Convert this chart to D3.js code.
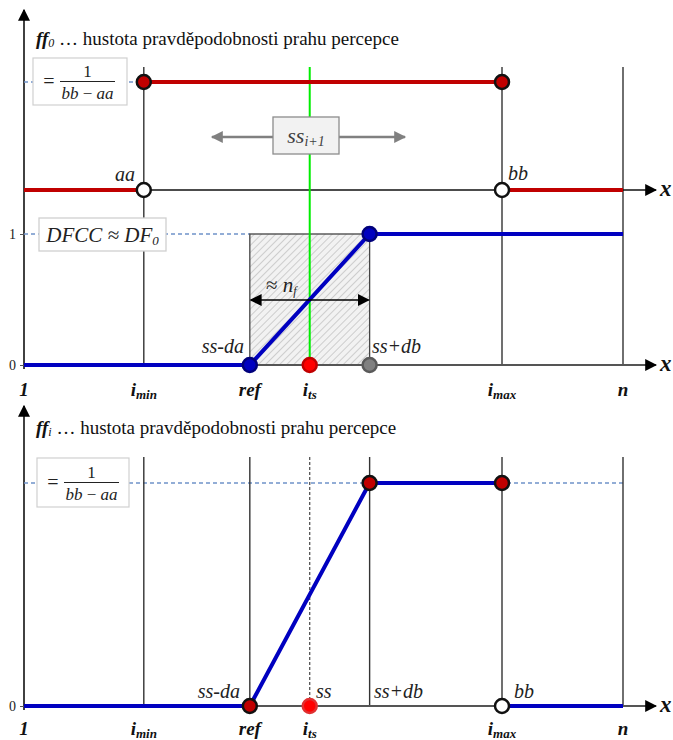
<!DOCTYPE html>
<html><head><meta charset="utf-8">
<script src="https://cdn.jsdelivr.net/npm/d3@7"></script>
</head><body>
<svg id="c" width="673" height="740"></svg>
<script>
// Positions along the index axis (abstract units, 1 → 0, n → 100)
const tickPos  = [0, 20, 37.7, 47.7, 79.8, 100];
const tickMain = ["1", "i", "ref", "i", "i", "n"];
const tickSub  = ["", "min", "", "ts", "max", ""];
const aa = 20, bb = 79.8, ref = 37.7, its = 47.7, ssdb = 57.7, nEnd = 100;

// ff0: uniform density on <aa, bb>, height normalised to 1/(bb-aa) = 1
const ff0Outer = [[[0, 0], [aa, 0]], [[bb, 0], [nEnd, 0]]];
const ff0Inner = [[aa, 1], [bb, 1]];
// DFCC ≈ DF0: distribution function
const dfcc = [[0, 0], [ref, 0], [ssdb, 1], [nEnd, 1]];
// ffi: density after the step
const ffiMain = [[0, 0], [ref, 0], [ssdb, 1], [bb, 1]];
const ffiTail = [[bb, 0], [nEnd, 0]];

d3.select("body").style("margin", "0").style("background", "#fff");
const FONT = '"Liberation Serif"';
const svg = d3.select("#c").style("display", "block");
const x = d3.scaleLinear().domain([0, 100]).range([24, 623]);
const yDen0 = d3.scaleLinear().domain([0, 1]).range([190, 82]);
const yCdf  = d3.scaleLinear().domain([0, 1]).range([365, 234]);
const yDenI = d3.scaleLinear().domain([0, 1]).range([706, 483]);

const RED = "#c00000", BLUE = "#0000c0", GRID = "#333";

const defs = svg.append("defs");
defs.append("marker").attr("id", "arrAx").attr("viewBox", "0 0 10 10")
  .attr("refX", 9).attr("refY", 5).attr("markerWidth", 12).attr("markerHeight", 12)
  .attr("markerUnits", "userSpaceOnUse").attr("orient", "auto")
  .append("path").attr("d", "M0,0L10,5L0,10Z").attr("fill", "#000");
defs.append("marker").attr("id", "arrS").attr("viewBox", "0 0 10 10")
  .attr("refX", 9).attr("refY", 5).attr("markerWidth", 12).attr("markerHeight", 12)
  .attr("markerUnits", "userSpaceOnUse").attr("orient", "auto-start-reverse")
  .append("path").attr("d", "M0,0L10,5L0,10Z").attr("fill", "#000");
defs.append("marker").attr("id", "arrG").attr("viewBox", "0 0 10 10")
  .attr("refX", 9).attr("refY", 5).attr("markerWidth", 14).attr("markerHeight", 12)
  .attr("markerUnits", "userSpaceOnUse").attr("orient", "auto")
  .append("path").attr("d", "M0,0L10,5L0,10Z").attr("fill", "#808080");
const pat = defs.append("pattern").attr("id", "hatch").attr("patternUnits", "userSpaceOnUse")
  .attr("width", 5).attr("height", 5).attr("patternTransform", "rotate(45)");
pat.append("rect").attr("width", 5).attr("height", 5).attr("fill", "#f2f2f2");
pat.append("line").attr("x1", 0).attr("y1", 0).attr("x2", 0).attr("y2", 5)
  .attr("stroke", "#b4b4b4").attr("stroke-width", 1.2);

const line = (ys) => d3.line().x(d => x(d[0])).y(d => ys(d[1]));

function txt(g) {
  return g.append("text").style("font-family", FONT);
}
function vline(g, xv, y1, y2, opts = {}) {
  g.append("line").attr("x1", x(xv)).attr("x2", x(xv)).attr("y1", y1).attr("y2", y2)
    .attr("stroke", opts.stroke || GRID).attr("stroke-width", opts.w || 1.4)
    .attr("stroke-dasharray", opts.dash || null);
}
function dot(g, cx, cy, fill, stroke, r = 7) {
  g.append("circle").attr("cx", cx).attr("cy", cy).attr("r", r)
    .attr("fill", fill).attr("stroke", stroke).attr("stroke-width", 2.5);
}
function label(g, tx, ty, parts, opts = {}) {
  const t = txt(g).attr("x", tx).attr("y", ty)
    .attr("text-anchor", opts.anchor || "start")
    .attr("font-size", opts.size || 19).attr("fill", opts.fill || "#222");
  parts.forEach(p => {
    const s = t.append("tspan").text(p.t);
    if (p.it) s.attr("font-style", "italic");
    if (p.b) s.attr("font-weight", "bold");
    if (p.sz) s.attr("font-size", p.sz);
    if (p.dy) s.attr("dy", p.dy);
  });
  return t;
}
function fracBox(g, bx, by, bw, bh) {
  g.append("rect").attr("x", bx).attr("y", by).attr("width", bw).attr("height", bh)
    .attr("fill", "#fff").attr("stroke", "#d0d0d0").attr("stroke-width", 1.2);
  const cy = by + bh / 2;
  txt(g).attr("x", bx + 16).attr("y", cy + 6).attr("text-anchor", "middle")
    .attr("font-size", 20).attr("fill", "#222").text("=");
  g.append("line").attr("x1", bx + 27).attr("x2", bx + 82).attr("y1", cy).attr("y2", cy)
    .attr("stroke", "#222").attr("stroke-width", 1.1);
  txt(g).attr("x", bx + 54.5).attr("y", cy - 5).attr("text-anchor", "middle")
    .attr("font-size", 17).attr("fill", "#222").text("1");
  const t = txt(g).attr("x", bx + 54.5).attr("y", cy + 17).attr("text-anchor", "middle")
    .attr("font-size", 17).attr("fill", "#222");
  t.append("tspan").attr("font-style", "italic").text("bb");
  t.append("tspan").text(" − ");
  t.append("tspan").attr("font-style", "italic").text("aa");
}
function tickLabels(g, ty) {
  tickPos.forEach((p, i) => {
    const t = txt(g).attr("x", x(p)).attr("y", ty).attr("text-anchor", "middle")
      .attr("font-size", 19).attr("font-weight", "bold").attr("font-style", "italic").attr("fill", "#111");
    t.append("tspan").text(tickMain[i]);
    if (tickSub[i]) t.append("tspan").attr("font-size", 13).attr("dy", 3).text(tickSub[i]);
  });
}
function title(g, ty, sub) {
  const t = txt(g).attr("x", 36).attr("y", ty).attr("font-size", 19).attr("fill", "#111");
  t.append("tspan").attr("font-weight", "bold").attr("font-style", "italic").text("ff");
  t.append("tspan").attr("font-style", "italic").attr("font-size", 12).attr("dy", 2).text(sub);
  t.append("tspan").attr("dy", -2).text(" … hustota pravděpodobnosti prahu percepce");
}
function xAxisLine(g, yy, stroke, w) {
  g.append("line").attr("x1", 24).attr("x2", 656).attr("y1", yy).attr("y2", yy)
    .attr("stroke", stroke).attr("stroke-width", w).attr("marker-end", "url(#arrAx)");
  txt(g).attr("x", 660).attr("y", yy + 6).attr("font-size", 23)
    .attr("font-weight", "bold").attr("font-style", "italic").attr("fill", "#111").text("x");
}

/* ---------------- upper panel ---------------- */
const gTop = svg.append("g");
gTop.append("line").attr("x1", 24).attr("x2", 24).attr("y1", 369).attr("y2", 10)
  .attr("stroke", "#111").attr("stroke-width", 1.6).attr("marker-end", "url(#arrAx)");
title(gTop, 45, "0");

// reference dashed levels
gTop.append("line").attr("x1", 24).attr("x2", x(aa)).attr("y1", yDen0(1)).attr("y2", yDen0(1))
  .attr("stroke", "#6f93c9").attr("stroke-width", 1.3).attr("stroke-dasharray", "4,3");
gTop.append("line").attr("x1", 24).attr("x2", x(ref)).attr("y1", yCdf(1)).attr("y2", yCdf(1))
  .attr("stroke", "#6f93c9").attr("stroke-width", 1.3).attr("stroke-dasharray", "4,3");

// vertical guide lines
[aa, bb, nEnd].forEach(v => vline(gTop, v, 67, 365));

// hatched interval <ss-da, ss+db>
gTop.append("rect").attr("x", x(ref)).attr("y", yCdf(1))
  .attr("width", x(ssdb) - x(ref)).attr("height", yCdf(0) - yCdf(1))
  .attr("fill", "url(#hatch)").attr("stroke", "#444").attr("stroke-width", 1.3);

// axes
xAxisLine(gTop, yDen0(0), "#111", 1.5);
xAxisLine(gTop, yCdf(0), "#555", 1.8);
const yAx = d3.axisLeft(yCdf).tickValues([0, 1]).tickSize(4).tickPadding(4).tickFormat(d3.format("d"));
const yg = gTop.append("g").attr("transform", "translate(24,0)").call(yAx);
yg.attr("font-family", null);
yg.select(".domain").remove();
yg.selectAll("text").style("font-family", FONT).attr("font-size", 14).attr("fill", "#222");
yg.selectAll("line").attr("stroke", "#555");

// green line at i_ts
vline(gTop, its, 67, 365, { stroke: "#00ee00", w: 2 });

// ff0
ff0Outer.forEach(s => gTop.append("path").attr("d", line(yDen0)(s))
  .attr("fill", "none").attr("stroke", RED).attr("stroke-width", 4));
gTop.append("path").attr("d", line(yDen0)(ff0Inner))
  .attr("fill", "none").attr("stroke", RED).attr("stroke-width", 4);

// DFCC
gTop.append("path").attr("d", line(yCdf)(dfcc)).attr("fill", "none")
  .attr("stroke", BLUE).attr("stroke-width", 4).attr("stroke-linejoin", "round");

// width arrow ≈ n_f
gTop.append("line").attr("x1", x(ref) + 1).attr("x2", x(ssdb) - 1).attr("y1", 300).attr("y2", 300)
  .attr("stroke", "#000").attr("stroke-width", 1.5)
  .attr("marker-start", "url(#arrS)").attr("marker-end", "url(#arrS)");
label(gTop, 266, 292, [{ t: "≈ " }, { t: "n", it: 1 }, { t: "f", it: 1, sz: 12, dy: 3 }], { size: 21 });

// ss_{i+1} shift box with arrows
gTop.append("line").attr("x1", 273).attr("x2", 212).attr("y1", 137).attr("y2", 137)
  .attr("stroke", "#808080").attr("stroke-width", 2.5).attr("marker-end", "url(#arrG)");
gTop.append("line").attr("x1", 339).attr("x2", 405).attr("y1", 137).attr("y2", 137)
  .attr("stroke", "#808080").attr("stroke-width", 2.5).attr("marker-end", "url(#arrG)");
gTop.append("rect").attr("x", 273).attr("y", 117).attr("width", 66).attr("height", 37)
  .attr("fill", "#f2f2f2").attr("stroke", "#8c8c8c").attr("stroke-width", 1.3);
label(gTop, 306, 143, [{ t: "ss", it: 1 }, { t: "i+1", it: 1, sz: 14, dy: 3 }],
  { anchor: "middle", size: 22, fill: "#404040" });

// boxes
fracBox(gTop, 33, 58, 94, 47);
gTop.append("rect").attr("x", 39).attr("y", 218).attr("width", 127).attr("height", 33)
  .attr("fill", "#fff").attr("stroke", "#d0d0d0").attr("stroke-width", 1.3);
label(gTop, 102.5, 242, [{ t: "DFCC ≈ DF", it: 1 }, { t: "0", it: 1, sz: 13, dy: 3 }],
  { anchor: "middle", size: 21 });

// points
dot(gTop, x(aa), yDen0(1), RED, "#111");
dot(gTop, x(bb), yDen0(1), RED, "#111");
dot(gTop, x(aa), yDen0(0), "#fff", "#111");
dot(gTop, x(bb), yDen0(0), "#fff", "#111");
dot(gTop, x(ref), yCdf(0), BLUE, "#00007a");
dot(gTop, x(ssdb), yCdf(1), BLUE, "#00007a");
dot(gTop, x(its), yCdf(0), "#ff0000", "#c00000");
dot(gTop, x(ssdb), yCdf(0), "#808080", "#5a5a5a");

// point labels
label(gTop, 135, 181, [{ t: "aa", it: 1 }], { anchor: "end", size: 20 });
label(gTop, 508, 180, [{ t: "bb", it: 1 }], { size: 20 });
label(gTop, 244, 353, [{ t: "ss-da", it: 1 }], { anchor: "end", size: 20 });
label(gTop, 372, 353, [{ t: "ss+db", it: 1 }], { size: 20 });
tickLabels(gTop, 396);

/* ---------------- lower panel ---------------- */
const gBot = svg.append("g");
gBot.append("line").attr("x1", 24).attr("x2", 24).attr("y1", 710).attr("y2", 406)
  .attr("stroke", "#111").attr("stroke-width", 1.6).attr("marker-end", "url(#arrAx)");
title(gBot, 434, "i");

gBot.append("line").attr("x1", 24).attr("x2", x(nEnd)).attr("y1", yDenI(1)).attr("y2", yDenI(1))
  .attr("stroke", "#6f93c9").attr("stroke-width", 1.3).attr("stroke-dasharray", "4,3");
[aa, ref, ssdb, bb, nEnd].forEach(v => vline(gBot, v, 457, 706));
vline(gBot, its, 457, 706, { stroke: "#444", w: 1.2, dash: "3,2" });

xAxisLine(gBot, yDenI(0), "#555", 1.8);
const yAx2 = d3.axisLeft(yDenI).tickValues([0]).tickSize(4).tickPadding(4).tickFormat(d3.format("d"));
const yg2 = gBot.append("g").attr("transform", "translate(24,0)").call(yAx2);
yg2.attr("font-family", null);
yg2.select(".domain").remove();
yg2.selectAll("text").style("font-family", FONT).attr("font-size", 14).attr("fill", "#222");
yg2.selectAll("line").attr("stroke", "#555");

gBot.append("path").attr("d", line(yDenI)(ffiMain)).attr("fill", "none")
  .attr("stroke", BLUE).attr("stroke-width", 4).attr("stroke-linejoin", "round");
gBot.append("path").attr("d", line(yDenI)(ffiTail)).attr("fill", "none")
  .attr("stroke", BLUE).attr("stroke-width", 4);

fracBox(gBot, 37, 458, 92, 49);

dot(gBot, x(ref), yDenI(0), RED, "#111");
dot(gBot, x(its), yDenI(0), "#ff0000", "#e03030");
dot(gBot, x(ssdb), yDenI(1), RED, "#111");
dot(gBot, x(bb), yDenI(1), RED, "#111");
dot(gBot, x(bb), yDenI(0), "#fff", "#111");

label(gBot, 240, 698, [{ t: "ss-da", it: 1 }], { anchor: "end", size: 20 });
label(gBot, 316, 698, [{ t: "ss", it: 1 }], { size: 20 });
label(gBot, 374, 698, [{ t: "ss+db", it: 1 }], { size: 20 });
label(gBot, 514, 698, [{ t: "bb", it: 1 }], { size: 20 });
tickLabels(gBot, 735);

// keep the serif face on nested runs as well
svg.selectAll("tspan").style("font-family", FONT);
</script>
</body></html>
